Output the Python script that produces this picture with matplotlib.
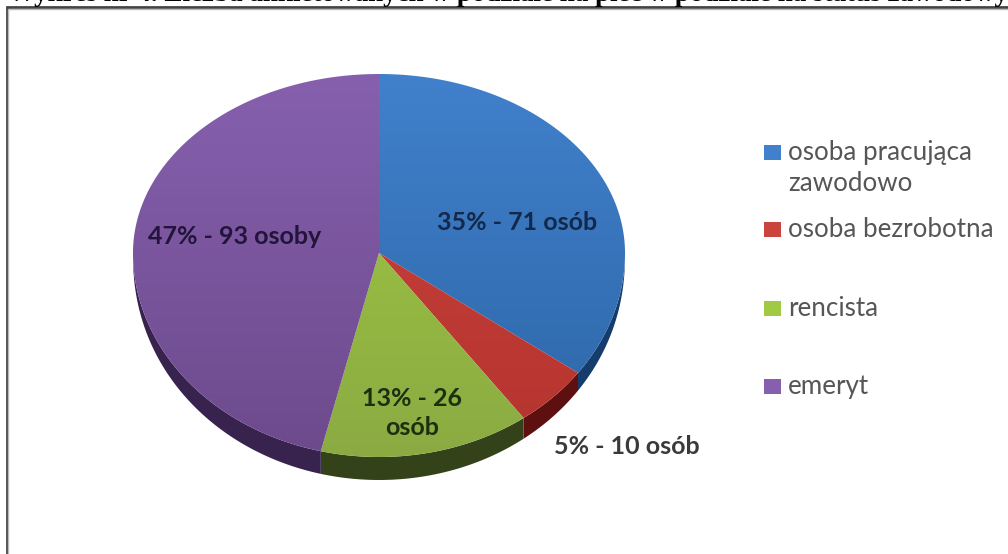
import numpy as np
import matplotlib
matplotlib.use("Agg")
import matplotlib.pyplot as plt
from matplotlib.patches import Polygon, Rectangle

categories = ["osoba pracująca\nzawodowo", "osoba bezrobotna", "rencista", "emeryt"]
# slice sizes as they are drawn in the picture (percent)
shares = [35, 5, 13.8, 46.2]
slice_labels = ["35% - 71 osób", "5% - 10 osób", "13% - 26\nosób", "47% - 93 osoby"]
title = "Wykres nr 4. Liczba ankietowanych w podziale na płeć w podziale na status zawodowy ankietowanych"

top_colors = ["#4180cc", "#cb433c", "#a0c944", "#8660ae"]
low_colors = ["#2c66a6", "#b5342f", "#8bab42", "#6d4a8c"]
side_colors = ["#143c6c", "#5e0f0f", "#34421a", "#38234f"]
label_colors = ["#14284a", "#3a3a3a", "#1e2e10", "#22143a"]
label_pos = [(517, 222), (627, 446), (412, 413), (235, 236)]
legend_y = [160, 237, 316, 394]

# pie geometry in pixels, the lower half is stretched like in the 3d original
cx, cy = 379, 253
rx, ry_up, ry_low = 246, 179, 204
depth = 23

fig = plt.figure(figsize=(10.08, 5.54), dpi=100)
ax = fig.add_axes([0, 0, 1, 1])
ax.set_xlim(0, 1008)
ax.set_ylim(554, 0)
ax.axis("off")


def rim(angles, shift=0):
    # angles are clockwise from the top
    c = np.cos(angles)
    ry = np.where(c > 0, ry_up, ry_low)
    return np.column_stack([cx + rx * np.sin(angles), cy - ry * c + shift])


edges = np.cumsum([0] + shares) / sum(shares) * 2 * np.pi

# sides first
for i in range(len(shares)):
    a0 = max(edges[i], np.pi / 2)
    a1 = min(edges[i + 1], 3 * np.pi / 2)
    if a1 <= a0:
        continue
    arc = np.linspace(a0, a1, 120)
    # depth fades towards the left and right ends of the pie
    upper = rim(arc)
    lower = rim(arc)
    lower[:, 1] += depth * np.abs(np.cos(arc - np.pi)) ** 0.5
    ax.add_patch(Polygon(np.vstack([upper, lower[::-1]]), fc=side_colors[i], ec="none"))

# top faces with a soft vertical gradient
for i in range(len(shares)):
    arc = np.linspace(edges[i], edges[i + 1], 200)
    pts = np.vstack([[cx, cy], rim(arc)])
    poly = Polygon(pts, fc="none", ec="none", transform=ax.transData)
    ax.add_patch(poly)
    grad = np.linspace(0, 1, 256).reshape(-1, 1, 1)
    c0 = np.array(matplotlib.colors.to_rgb(top_colors[i]))
    c1 = np.array(matplotlib.colors.to_rgb(low_colors[i]))
    img = c0 * (1 - grad) + c1 * grad
    im = ax.imshow(img, extent=(cx - rx, cx + rx, cy + ry_low, cy - ry_up), aspect="auto", zorder=2)
    im.set_clip_path(poly)

ax.set_xlim(0, 1008)
ax.set_ylim(554, 0)

font = ["Lato", "DejaVu Sans"]
for lab, pos, col in zip(slice_labels, label_pos, label_colors):
    ax.text(pos[0], pos[1], lab, ha="center", va="center", fontsize=18, fontweight="bold",
            color=col, family=font, zorder=3, linespacing=1.3)

# legend
for name, y, col in zip(categories, legend_y, top_colors):
    ax.add_patch(Rectangle((764, y - 15), 17, 15, fc=col, ec="none", zorder=3))
    lines = name.split("\n")
    for j, line in enumerate(lines):
        ax.text(788, y + j * 31, line, ha="left", va="baseline", fontsize=18.7, color="#565656",
                family=font, zorder=3)

# scanned frame, open on the right and at the bottom
ax.plot([1008, 6.5, 6.5], [7, 7, 554], color="#444444", lw=2, solid_joinstyle="miter", zorder=4)
ax.plot([1008, 8, 8], [9, 9, 554], color="#bbbbbb", lw=1, zorder=4)

# title is cut by the top edge of the scan
ax.text(8, 1, title, ha="left", va="baseline", fontsize=19.5, fontweight="bold",
        family="Liberation Serif", color="black", zorder=4)

fig.savefig("out.png", dpi=100)
